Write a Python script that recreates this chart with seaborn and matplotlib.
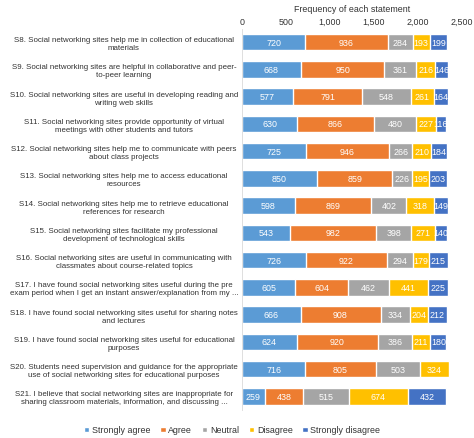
import matplotlib.pyplot as plt
import numpy as np
import pandas as pd
import seaborn as sns

# Statements (wrapped as in the original chart)
statements = [
    'S8. Social networking sites help me in collection of educational\nmaterials',
    'S9. Social networking sites are helpful in collaborative and peer-\nto-peer learning',
    'S10. Social networking sites are useful in developing reading and\nwriting web skills',
    'S11. Social networking sites provide opportunity of virtual\nmeetings with other students and tutors',
    'S12. Social networking sites help me to communicate with peers\nabout class projects',
    'S13. Social networking sites help me to access educational\nresources',
    'S14. Social networking sites help me to retrieve educational\nreferences for research',
    'S15. Social networking sites facilitate my professional\ndevelopment of technological skills',
    'S16. Social networking sites are useful in communicating with\nclassmates about course-related topics',
    'S17. I have found social networking sites useful during the pre\nexam period when I get an instant answer/explanation from my ...',
    'S18. I have found social networking sites useful for sharing notes\nand lectures',
    'S19. I have found social networking sites useful for educational\npurposes',
    'S20. Students need supervision and guidance for the appropriate\nuse of social networking sites for educational purposes',
    'S21. I believe that social networking sites are inappropriate for\nsharing classroom materials, information, and discussing ...',
]

categories = ['Strongly agree', 'Agree', 'Neutral', 'Disagree', 'Strongly disagree']
colors = ['#5B9BD5', '#ED7D31', '#A5A5A5', '#FFC000', '#4472C4']

strongly_agree = [720, 668, 577, 630, 725, 850, 598, 543, 726, 605, 666, 624, 716, 259]
agree = [936, 950, 791, 866, 946, 859, 869, 982, 922, 604, 908, 920, 805, 438]
neutral = [284, 361, 548, 480, 266, 226, 402, 398, 294, 462, 334, 386, 503, 515]
disagree = [193, 216, 261, 227, 210, 195, 318, 271, 179, 441, 204, 211, 324, 674]
strongly_disagree = [199, 146, 164, 116, 184, 203, 149, 140, 215, 225, 212, 180, 0, 432]

df = pd.DataFrame({'statement': statements, 'Strongly agree': strongly_agree, 'Agree': agree,
                   'Neutral': neutral, 'Disagree': disagree, 'Strongly disagree': strongly_disagree})
cum = df[categories].cumsum(axis=1)

sns.set_style('white')
plt.rcParams['font.family'] = ['Liberation Sans', 'DejaVu Sans']

fig, ax = plt.subplots(figsize=(4.74, 4.39), dpi=100)
fig.subplots_adjust(left=242 / 474, right=462 / 474, top=1 - 29.5 / 439, bottom=1 - 411 / 439)

# Stacked bars: draw cumulative totals from largest to smallest
for cat, color in reversed(list(zip(categories, colors))):
    sns.barplot(x=cum[cat], y=df['statement'], color=color, orient='h', width=0.6,
                saturation=1, ax=ax, label=cat)
handles, labels = ax.get_legend_handles_labels()
if ax.get_legend() is not None:
    ax.get_legend().remove()

# Value labels in the middle of each segment
for cat in categories:
    for i, (v, c) in enumerate(zip(df[cat], cum[cat])):
        if v > 0:
            ax.text(c - v / 2, i, str(v), ha='center', va='center', color='white', fontsize=6.4)

ax.set_xlim(0, 2500)
ax.set_xticks(np.arange(0, 2501, 500))
ax.set_xticklabels([f'{t:,}' for t in range(0, 2501, 500)])
ax.xaxis.tick_top()
ax.xaxis.set_label_position('top')
ax.set_xlabel('Frequency of each statement', fontsize=6.4, color='#333333', labelpad=4)
ax.set_ylabel('')
ax.tick_params(axis='x', length=0, labelsize=6.4, labelcolor='#333333', pad=2)
ax.tick_params(axis='y', length=0, labelsize=5.65, labelcolor='#333333', pad=85)
for lab in ax.get_yticklabels():
    lab.set_horizontalalignment('center')
    lab.set_multialignment('center')

for side in ['top', 'right', 'bottom']:
    ax.spines[side].set_visible(False)
ax.spines['left'].set_color('#D9D9D9')
ax.spines['left'].set_linewidth(0.6)

order = [labels.index(c) for c in categories]
leg = fig.legend([handles[i] for i in order], categories, loc='center', ncol=5,
                 bbox_to_anchor=(0.49, 1 - 431 / 439), frameon=False, fontsize=6.4,
                 handlelength=0.6, handleheight=0.6, handletextpad=0.3, columnspacing=1.1)
for t in leg.get_texts():
    t.set_color('#333333')

plt.savefig('out.png', dpi=100)
